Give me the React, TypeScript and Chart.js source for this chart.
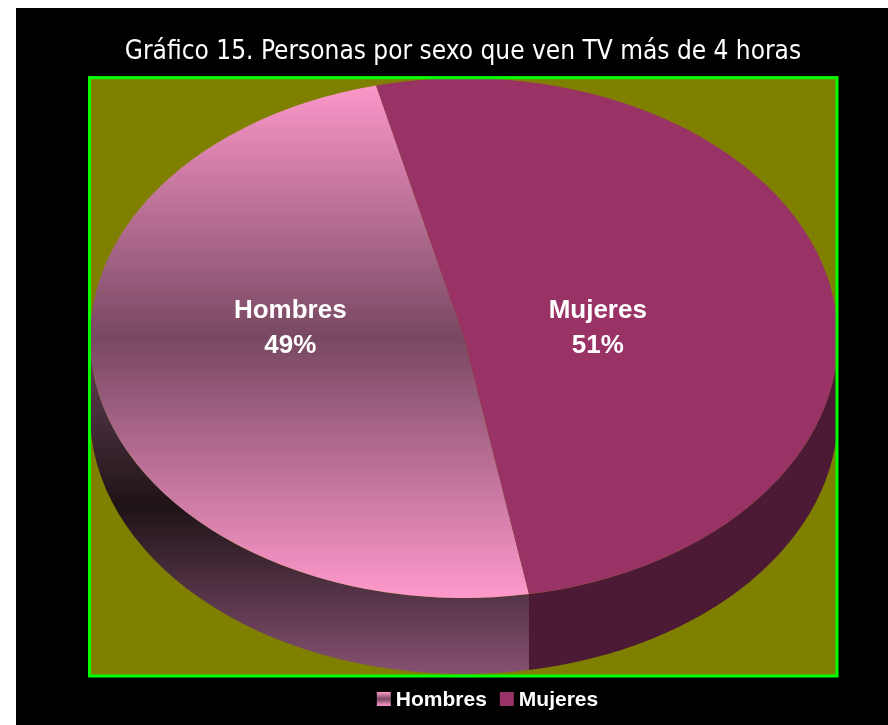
import { useEffect, useRef } from 'react';
import { Chart, registerables } from 'chart.js';

Chart.register(...registerables);

const TITLE = 'Gráfico 15. Personas por sexo que ven TV más de 4 horas';
const categories = ['Hombres', 'Mujeres'];
const shares = [49, 51];
const hombresFaceStops = ['#FF99CC', '#784862', '#FF99CC'];
const mujeresFace = '#993366';
const hombresSideStops = ['#6A4359', '#1E1317', '#865171'];
const mujeresSide = '#4D1A36';

const PAGE_BG = '#000000';
const PLOT_BG = '#808000';
const PLOT_BORDER = '#00FF00';

function geom(chart: any) {
  const ca = chart.chartArea;
  const rx = ca.width / 2 - 1;
  const ry = rx * 0.695;
  const cx = (ca.left + ca.right) / 2 + 1;
  const cy = ca.top + 2 + ry;
  const depth = rx * 0.203;
  return { cx, cy, rx, ry, depth };
}

function hombresFace(c: any) {
  const chart = c.chart;
  const ca = chart.chartArea;
  if (!ca) return hombresFaceStops[0];
  const R = Math.min(ca.width, ca.height) / 2;
  const yc = (ca.top + ca.bottom) / 2;
  const g = chart.ctx.createLinearGradient(0, yc - R, 0, yc + R);
  g.addColorStop(0, hombresFaceStops[0]);
  g.addColorStop(0.5, hombresFaceStops[1]);
  g.addColorStop(1, hombresFaceStops[2]);
  return g;
}

function sideFill(ctx: CanvasRenderingContext2D, g: any, i: number) {
  if (i !== 0) return mujeresSide;
  const gr = ctx.createLinearGradient(0, g.cy, 0, g.cy + g.ry + g.depth);
  gr.addColorStop(0, hombresSideStops[0]);
  gr.addColorStop(0.5, hombresSideStops[1]);
  gr.addColorStop(1, hombresSideStops[2]);
  return gr;
}

const pie3d = {
  id: 'pie3d',
  beforeDraw(chart: any) {
    const { ctx, width, height, chartArea: ca } = chart;
    ctx.save();
    ctx.fillStyle = PAGE_BG;
    ctx.fillRect(0, 0, width, height);
    ctx.fillStyle = PLOT_BG;
    ctx.fillRect(ca.left, ca.top, ca.width, ca.height);
    ctx.restore();
  },
  beforeDatasetsDraw(chart: any) {
    const ctx = chart.ctx;
    const g = geom(chart);
    const meta = chart.getDatasetMeta(0);
    ctx.save();
    meta.data.forEach((arc: any, i: number) => {
      const { startAngle, endAngle } = arc.getProps(['startAngle', 'endAngle'], true);
      for (let k = -1; k <= 2; k++) {
        const base = k * 2 * Math.PI;
        const lo = Math.max(startAngle, base);
        const hi = Math.min(endAngle, base + Math.PI);
        if (hi > lo) {
          ctx.beginPath();
          ctx.ellipse(g.cx, g.cy, g.rx, g.ry, 0, lo, hi, false);
          ctx.ellipse(g.cx, g.cy + g.depth, g.rx, g.ry, 0, hi, lo, true);
          ctx.closePath();
          ctx.fillStyle = sideFill(ctx, g, i);
          ctx.fill();
        }
      }
    });
    ctx.restore();
    const a0 = meta.data[0];
    const { x, y, outerRadius } = a0.getProps(['x', 'y', 'outerRadius'], true);
    ctx.save();
    ctx.translate(g.cx, g.cy);
    ctx.scale(g.rx / outerRadius, g.ry / outerRadius);
    ctx.translate(-x, -y);
  },
  afterDatasetsDraw(chart: any) {
    const ctx = chart.ctx;
    ctx.restore();
    const ca = chart.chartArea;
    const g = geom(chart);
    // plot border
    ctx.save();
    ctx.strokeStyle = PLOT_BORDER;
    ctx.lineWidth = 3;
    ctx.strokeRect(ca.left + 1.5, ca.top + 1.5, ca.width - 2.5, ca.height - 1.5);
    ctx.restore();
    // data labels
    const meta = chart.getDatasetMeta(0);
    const data = chart.data.datasets[0].data as number[];
    const total = data.reduce((s, v) => s + v, 0);
    ctx.save();
    ctx.fillStyle = '#FFFFFF';
    ctx.font = "bold 26px 'Liberation Sans', Arial, sans-serif";
    ctx.textAlign = 'center';
    ctx.textBaseline = 'alphabetic';
    meta.data.forEach((arc: any, i: number) => {
      const { startAngle, endAngle } = arc.getProps(['startAngle', 'endAngle'], true);
      const mid = (startAngle + endAngle) / 2;
      const lx = g.cx - 20 + 0.42 * g.rx * Math.cos(mid);
      const ly = g.cy - 20;
      ctx.fillText(String(chart.data.labels[i]), lx, ly);
      ctx.fillText(Math.round((data[i] / total) * 100) + '%', lx, ly + 35);
    });
    ctx.restore();
  },
  afterDraw(chart: any) {
    const ctx = chart.ctx;
    const ca = chart.chartArea;
    const labels = chart.data.labels as string[];
    ctx.save();
    ctx.font = "bold 21px 'Liberation Sans', Arial, sans-serif";
    ctx.textBaseline = 'alphabetic';
    ctx.textAlign = 'left';
    const box = 14;
    const gapText = 5;
    const gapItem = 13;
    const widths = labels.map((l) => ctx.measureText(l).width);
    const total = widths.reduce((s, w) => s + box + gapText + w, 0) + gapItem * (labels.length - 1);
    let x = (ca.left + ca.right) / 2 + 24.5 - total / 2;
    const baseY = ca.bottom + 30;
    labels.forEach((l, i) => {
      if (i === 0) {
        const gr = ctx.createLinearGradient(0, baseY - box, 0, baseY);
        gr.addColorStop(0, hombresFaceStops[0]);
        gr.addColorStop(0.5, hombresFaceStops[1]);
        gr.addColorStop(1, hombresFaceStops[2]);
        ctx.fillStyle = gr;
      } else {
        ctx.fillStyle = mujeresFace;
      }
      ctx.fillRect(x, baseY - box, box, box);
      x += box + gapText;
      ctx.fillStyle = '#FFFFFF';
      ctx.fillText(l, x, baseY);
      x += widths[i] + gapItem;
    });
    ctx.restore();
  },
};

export default function App() {
  const ref = useRef<HTMLCanvasElement | null>(null);
  useEffect(() => {
    if (!ref.current) return;
    const chart = new Chart(ref.current, {
      type: 'pie',
      data: {
        labels: categories,
        datasets: [
          {
            data: shares,
            backgroundColor: (c: any) => (c.dataIndex === 0 ? hombresFace(c) : mujeresFace),
            borderWidth: 0,
            clip: false as any,
          },
        ],
      },
      options: {
        responsive: false,
        animation: false,
        rotation: 170,
        layout: { padding: { left: 72, right: 50, top: 0, bottom: 49 } },
        plugins: {
          legend: { display: false },
          tooltip: { enabled: false },
          title: {
            display: true,
            text: TITLE,
            color: '#FFFFFF',
            font: { family: "'DejaVu Sans Condensed', 'DejaVu Sans', sans-serif", size: 26, weight: 'normal' },
            padding: { top: 29, bottom: 8 },
          },
        },
      },
      plugins: [pie3d],
    });
    return () => chart.destroy();
  }, []);
  return (
    <div style={{ position: 'fixed', left: 16, top: 8, width: 872, height: 717 }}>
      <canvas ref={ref} width={872} height={717} style={{ display: 'block' }} />
    </div>
  );
}
